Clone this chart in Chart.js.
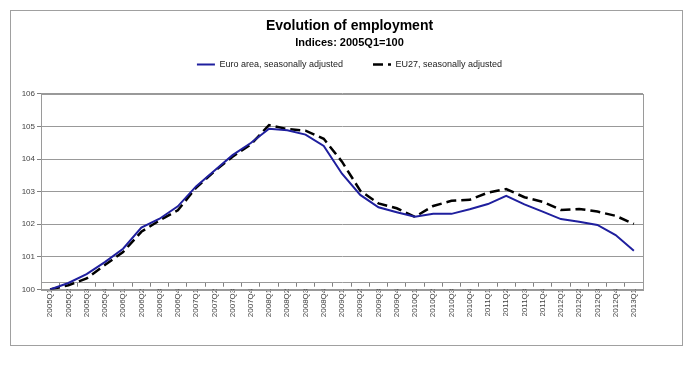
<!DOCTYPE html>
<html>
<head>
<meta charset="UTF-8" />
<title>Evolution of employment</title>
<style>
body { margin: 0; background: #fff; }
#frame { position: absolute; left: 10px; top: 10px; width: 671px; height: 334px; border: 1px solid #a0a0a0; }
</style>
</head>
<body>
<div id="frame"><canvas id="chart" width="671" height="334"></canvas></div>
<script src="https://cdn.jsdelivr.net/npm/chart.js@4/dist/chart.umd.min.js"></script>
<script>
var quarters = ["2005Q1","2005Q2","2005Q3","2005Q4","2006Q1","2006Q2","2006Q3","2006Q4",
	"2007Q1","2007Q2","2007Q3","2007Q4","2008Q1","2008Q2","2008Q3","2008Q4",
	"2009Q1","2009Q2","2009Q3","2009Q4","2010Q1","2010Q2","2010Q3","2010Q4",
	"2011Q1","2011Q2","2011Q3","2011Q4","2012Q1","2012Q2","2012Q3","2012Q4","2013Q1"];
var euroArea = [100.0, 100.2, 100.47, 100.84, 101.25, 101.9, 102.17, 102.55,
	103.16, 103.64, 104.12, 104.49, 104.93, 104.88, 104.75, 104.4,
	103.55, 102.9, 102.52, 102.37, 102.23, 102.32, 102.32, 102.46,
	102.62, 102.87, 102.61, 102.39, 102.16, 102.08, 101.98, 101.67, 101.19];
var eu27 = [100.0, 100.13, 100.34, 100.75, 101.15, 101.77, 102.12, 102.43,
	103.12, 103.62, 104.07, 104.45, 105.04, 104.92, 104.87, 104.62,
	103.92, 103.03, 102.64, 102.49, 102.23, 102.56, 102.72, 102.75,
	102.97, 103.08, 102.83, 102.69, 102.44, 102.47, 102.39, 102.26, 102.01];
var yMin = 100, yMax = 106, yStep = 1;

// grey box round the plot area
var plotBox = {
	id: 'plotBox',
	afterDraw: function(chart) {
		var a = chart.chartArea, ctx = chart.ctx;
		ctx.save();
		ctx.strokeStyle = '#9a9a9a';
		ctx.lineWidth = 1;
		ctx.strokeRect(Math.round(a.left) + 0.5, Math.round(a.top) + 0.5, Math.round(a.right - a.left), Math.round(a.bottom - a.top));
		ctx.restore();
	}
};

// some room between legend and plot
var legendGap = {
	id: 'legendGap',
	beforeInit: function(chart) {
		var fit = chart.legend.fit;
		chart.legend.fit = function() {
			fit.bind(chart.legend)();
			this.height += 8;
		};
	}
};

new Chart(document.getElementById('chart'), {
	type: 'line',
	data: {
		labels: quarters,
		datasets: [{
			label: 'Euro area, seasonally adjusted',
			data: euroArea,
			borderColor: '#1f1f9e',
			backgroundColor: '#1f1f9e',
			borderWidth: 2,
			pointRadius: 0,
			pointStyle: 'line',
			tension: 0,
			fill: false
		}, {
			label: 'EU27, seasonally adjusted',
			data: eu27,
			borderColor: '#000',
			backgroundColor: '#000',
			borderWidth: 2.5,
			borderDash: [10, 5],
			pointRadius: 0,
			pointStyle: 'line',
			tension: 0,
			fill: false
		}]
	},
	options: {
		responsive: false,
		animation: false,
		layout: { padding: { left: 11, right: 5, top: 0, bottom: 19 } },
		plugins: {
			title: {
				display: true,
				text: 'Evolution of employment',
				color: '#000',
				font: { family: 'Liberation Sans, Arial', size: 14, weight: 'bold' },
				padding: { top: 7, bottom: 2 }
			},
			subtitle: {
				display: true,
				text: 'Indices: 2005Q1=100',
				color: '#000',
				font: { family: 'Liberation Sans, Arial', size: 11, weight: 'bold' },
				padding: { top: 0, bottom: -20 }
			},
			legend: {
				position: 'top',
				labels: {
					usePointStyle: true,
					pointStyleWidth: 18,
					color: '#222',
					font: { family: 'Liberation Sans, Arial', size: 9 },
					padding: 30,
					generateLabels: function(chart) {
						var items = Chart.defaults.plugins.legend.labels.generateLabels(chart);
						items.forEach(function(item) {
							var ds = chart.data.datasets[item.datasetIndex];
							item.lineDash = ds.borderDash || [];
							item.lineWidth = ds.borderWidth;
							item.strokeStyle = ds.borderColor;
						});
						return items;
					}
				}
			},
			tooltip: { enabled: false }
		},
		scales: {
			x: {
				offset: true,
				grid: { display: true, drawOnChartArea: false, drawTicks: true, tickLength: 4, color: '#808080', offset: true },
				border: { color: '#9a9a9a' },
				ticks: {
					autoSkip: false, maxRotation: 90, minRotation: 90,
					color: '#444',
					font: { family: 'Liberation Sans, Arial', size: 8 },
					padding: 2
				}
			},
			y: {
				min: yMin, max: yMax,
				afterFit: function(s) { s.width = 19; },
				grid: { color: '#999', borderDash: [1, 1], tickLength: 4, tickColor: '#808080', tickBorderDash: [] },
				border: { color: '#9a9a9a' },
				ticks: {
					stepSize: yStep,
					color: '#444',
					font: { family: 'Liberation Sans, Arial', size: 8 },
					padding: 2
				}
			},
			// empty margin on the right of the plot
			yRight: {
				position: 'right',
				afterFit: function(s) { s.width = 34; },
				grid: { display: false },
				border: { display: false },
				ticks: { display: false }
			}
		}
	},
	plugins: [plotBox, legendGap]
});
</script>
</body>
</html>
